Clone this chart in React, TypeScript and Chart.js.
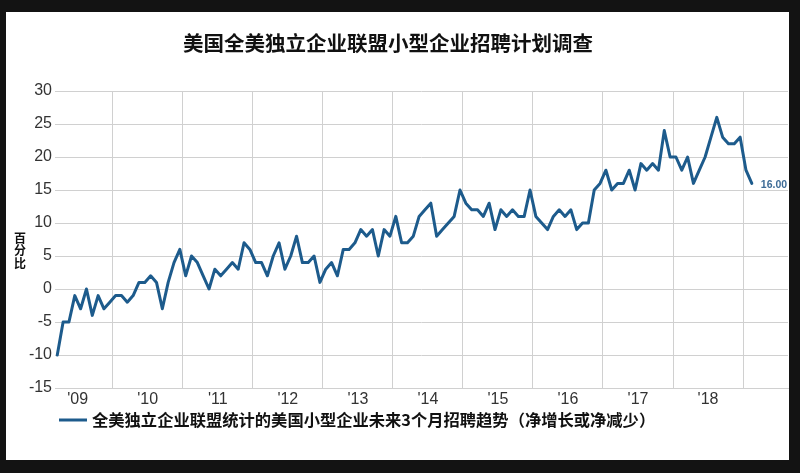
import React, { useEffect, useRef } from 'react';
import { Chart, registerables } from 'chart.js';

Chart.register(...registerables);

const TITLE = '美国全美独立企业联盟小型企业招聘计划调查';
const Y_TITLE = ['百', '分', '比'];
const SERIES_LABEL = '全美独立企业联盟统计的美国小型企业未来3个月招聘趋势（净增长或净减少）';
const YEAR_LABELS = ["'09", "'10", "'11", "'12", "'13", "'14", "'15", "'16", "'17", "'18"];
// months counted from Jan 2009; first observation is Mar 2009
const FIRST_MONTH = 2;
const VALUES = [
  -10, -5, -5, -1, -3, 0, -4, -1, -3, -2,
  -1, -1, -2, -1, 1, 1, 2, 1, -3, 1,
  4, 6, 2, 5, 4, 2, 0, 3, 2, 3,
  4, 3, 7, 6, 4, 4, 2, 5, 7, 3,
  5, 8, 4, 4, 5, 1, 3, 4, 2, 6,
  6, 7, 9, 8, 9, 5, 9, 8, 11, 7,
  7, 8, 11, 12, 13, 8, 9, 10, 11, 15,
  13, 12, 12, 11, 13, 9, 12, 11, 12, 11,
  11, 15, 11, 10, 9, 11, 12, 11, 12, 9,
  10, 10, 15, 16, 18, 15, 16, 16, 18, 15,
  19, 18, 19, 18, 24, 20, 20, 18, 20, 16,
  18, 20, 23, 26, 23, 22, 22, 23, 18, 16,
];
const Y_MIN = -15;
const Y_MAX = 30;
const Y_STEP = 5;

const LINE_COLOR = '#1d5b8c';
const GRID_COLOR = '#d0d0d0';
const CJK = '"Noto Sans CJK SC", "Noto Sans", sans-serif';
const LATIN = '"Liberation Sans", Arial, sans-serif';

const near = (a: number) => Math.abs(a - Math.round(a)) < 1e-6;
const isYearBoundary = (v: number) => near((v + 0.5) / 12);
const isYearMid = (v: number) => near((v - 5.5) / 12);

const textPlugin = {
  id: 'textPlugin',
  afterDraw(chart: any) {
    const { ctx } = chart;
    ctx.save();
    // title
    ctx.fillStyle = '#111';
    ctx.textAlign = 'center';
    ctx.textBaseline = 'middle';
    ctx.font = `bold 20.5px ${CJK}`;
    ctx.fillText(TITLE, 382, 31);
    // y axis title, stacked characters
    ctx.font = `bold 12px ${CJK}`;
    Y_TITLE.forEach((c, i) => ctx.fillText(c, 14, 226 + i * 12.5));
    // last value label
    const meta = chart.getDatasetMeta(0);
    const last = meta.data[meta.data.length - 1];
    ctx.textAlign = 'left';
    ctx.fillStyle = '#3d6b96';
    ctx.font = `bold 10.5px ${LATIN}`;
    ctx.fillText(VALUES[VALUES.length - 1].toFixed(2), last.x + 9, last.y + 1.5);
    // legend
    const ds = chart.data.datasets[0];
    const ly = 408;
    ctx.strokeStyle = ds.borderColor;
    ctx.lineWidth = 3;
    ctx.beginPath();
    ctx.moveTo(53, ly);
    ctx.lineTo(81, ly);
    ctx.stroke();
    ctx.fillStyle = '#111';
    ctx.font = `bold 16.3px ${CJK}`;
    ctx.fillText(ds.label, 86, ly);
    ctx.restore();
  },
};

export default function App() {
  const ref = useRef<HTMLCanvasElement | null>(null);

  useEffect(() => {
    if (!ref.current) return;
    const data = VALUES.map((v, i) => ({ x: FIRST_MONTH + i, y: v }));
    const chart = new Chart(ref.current, {
      type: 'line',
      data: {
        datasets: [
          {
            label: SERIES_LABEL,
            data,
            borderColor: LINE_COLOR,
            backgroundColor: LINE_COLOR,
            borderWidth: 3,
            pointRadius: 0,
            tension: 0,
            borderJoinStyle: 'round',
            borderCapStyle: 'round',
          },
        ],
      },
      options: {
        responsive: false,
        animation: false,
        layout: { padding: { top: 79, left: 0, right: 1, bottom: 52 } },
        plugins: {
          legend: { display: false },
          title: { display: false },
          tooltip: { enabled: false },
        },
        scales: {
          x: {
            type: 'linear',
            min: 1.61,
            max: 127.2,
            afterBuildTicks: (scale: any) => {
              const ticks: { value: number }[] = [];
              for (let k = 0; k <= 10; k++) {
                const b = 12 * k - 0.5;
                if (b >= scale.min && b <= scale.max) ticks.push({ value: b });
                const m = 12 * k + 5.5;
                if (k < YEAR_LABELS.length && m >= scale.min && m <= scale.max) ticks.push({ value: m });
              }
              ticks.sort((a, b) => a.value - b.value);
              scale.ticks = ticks;
            },
            afterFit: (scale: any) => {
              scale.height = 20;
            },
            ticks: {
              autoSkip: false,
              maxRotation: 0,
              padding: 2,
              color: '#333',
              font: { family: LATIN, size: 16 },
              callback: (value: any) => {
                const v = Number(value);
                if (isYearMid(v)) return YEAR_LABELS[Math.round((v - 5.5) / 12)];
                return '';
              },
            },
            grid: {
              drawTicks: false,
              color: (ctx: any) =>
                ctx.tick && isYearBoundary(ctx.tick.value) ? GRID_COLOR : 'rgba(0,0,0,0)',
              lineWidth: 1,
            },
            border: { display: true, color: GRID_COLOR },
          },
          y: {
            min: Y_MIN,
            max: Y_MAX,
            afterFit: (scale: any) => {
              scale.width = 49;
            },
            ticks: {
              stepSize: Y_STEP,
              padding: 3,
              color: '#333',
              font: { family: LATIN, size: 16 },
            },
            grid: { drawTicks: false, color: GRID_COLOR, lineWidth: 1 },
            border: { display: false },
          },
        },
      },
      plugins: [textPlugin],
    });
    return () => chart.destroy();
  }, []);

  return (
    <div
      style={{
        position: 'fixed',
        left: 0,
        top: 0,
        width: 800,
        height: 473,
        background: '#131313',
      }}
    >
      <div
        style={{
          position: 'absolute',
          left: 6,
          top: 12,
          width: 783,
          height: 448,
          background: '#ffffff',
        }}
      >
        <canvas ref={ref} width={783} height={448} style={{ display: 'block' }} />
      </div>
    </div>
  );
}
